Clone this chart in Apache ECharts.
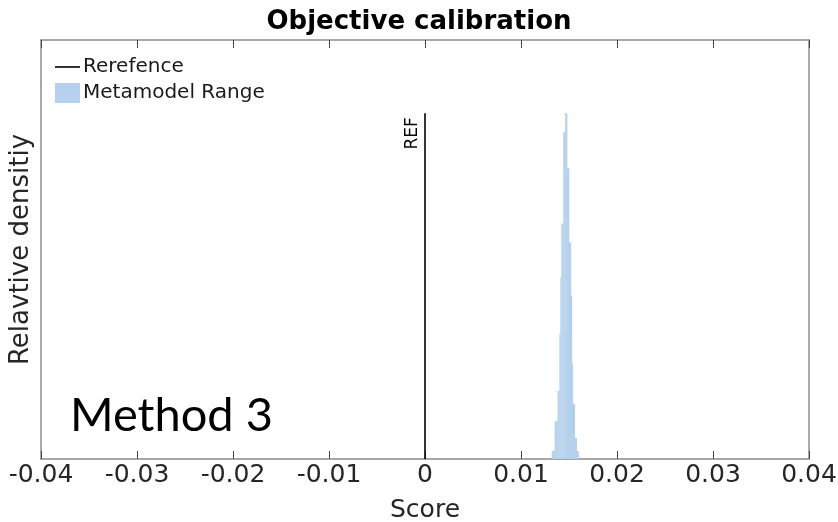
<!DOCTYPE html>
<html>
<head>
<meta charset="utf-8">
<script src="https://cdn.jsdelivr.net/npm/echarts@6/dist/echarts.min.js"></script>
<style>
html,body{margin:0;padding:0;background:#fff;}
#chart{width:838px;height:522px;}
</style>
</head>
<body>
<div id="chart"></div>
<script>
// ---- data ----
const titleText = 'Objective calibration';
const xTicks = [-0.04, -0.03, -0.02, -0.01, 0, 0.01, 0.02, 0.03, 0.04];
// histogram bin edges (Score) and heights (relative density, arbitrary units)
const binEdges = [0.0132, 0.0133, 0.0134, 0.0135, 0.0136, 0.0137, 0.0138, 0.0139, 0.0140, 0.0141,
                  0.0142, 0.0143, 0.0144, 0.0145, 0.0146, 0.0147, 0.0148, 0.0149, 0.0150, 0.0151,
                  0.0152, 0.0153, 0.0154, 0.0155, 0.0156, 0.0157, 0.0158, 0.0159, 0.0160];
const binHeights = [8, 8, 8, 38, 38, 38, 68, 68, 125, 181, 235, 235, 326, 326,
                    345, 345, 290, 290, 216, 216, 163, 95, 55, 55, 21, 21, 8, 8];
const refScore = 0;
const refTop = 345;
const yMax = 418;

const histData = binHeights.map((h, i) => [binEdges[i], binEdges[i + 1], h]);
const refData = [[refScore, 0], [refScore, refTop]];

const FONT = '"DejaVu Sans"';
const chart = echarts.init(document.getElementById('chart'), null, {renderer: 'canvas'});
const frameColor = '#8c8c8c';

chart.setOption({
  animation: false,
  backgroundColor: '#ffffff',
  title: {
    text: titleText, left: 'center', top: 4,
    textStyle: {fontFamily: FONT, fontSize: 26, fontWeight: 'bold', color: '#000'}
  },
  legend: {
    orient: 'vertical', left: 55, top: 57, padding: 0,
    itemWidth: 25, itemHeight: 20, itemGap: 6,
    textStyle: {fontFamily: FONT, fontSize: 20, color: '#1a1a1a', padding: [0, 0, 0, -2]},
    data: [
      {name: 'Rerefence', icon: 'path://M0,0H25V1.6H0Z'},
      {name: 'Metamodel Range', icon: 'rect'}
    ]
  },
  grid: {left: 41, right: 29, top: 40, bottom: 63, outerBoundsMode: 'none', containLabel: false},
  xAxis: [{
    type: 'value', min: -0.04, max: 0.04, interval: 0.01,
    name: 'Score', nameLocation: 'middle', nameGap: 39,
    nameTextStyle: {fontFamily: FONT, fontSize: 25, color: '#262626'},
    axisLine: {show: true, onZero: false, lineStyle: {color: frameColor, width: 1.5}},
    axisTick: {show: true, inside: true, length: 8, lineStyle: {color: '#444'}},
    axisLabel: {fontFamily: FONT, fontSize: 25, color: '#262626', margin: 4,
      formatter: v => { const s = xTicks.find(t => Math.abs(t - v) < 1e-9); return s === 0 ? '0' : String(s); }},
    splitLine: {show: false}
  }, {
    type: 'value', position: 'top', min: -0.04, max: 0.04, interval: 0.01,
    axisLine: {show: true, onZero: false, lineStyle: {color: frameColor, width: 1.5}},
    axisTick: {show: true, inside: true, length: 8, lineStyle: {color: '#444'}},
    axisLabel: {show: false}, splitLine: {show: false}
  }],
  yAxis: [{
    type: 'value', min: 0, max: yMax,
    name: 'Relavtive densitiy', nameLocation: 'middle', nameGap: 7,
    nameTextStyle: {fontFamily: FONT, fontSize: 26, color: '#262626'},
    axisLine: {show: true, onZero: false, lineStyle: {color: frameColor, width: 1.5}},
    axisTick: {show: false}, axisLabel: {show: false}, splitLine: {show: false}
  }, {
    type: 'value', position: 'right', min: 0, max: yMax,
    axisLine: {show: true, onZero: false, lineStyle: {color: frameColor, width: 1.5}},
    axisTick: {show: false}, axisLabel: {show: false}, splitLine: {show: false}
  }],
  graphic: [{
    type: 'text', left: 70, top: 392,
    style: {text: 'Method 3', fontFamily: 'Lato', fontSize: 47, fill: '#000'}
  }],
  series: [{
    name: 'Rerefence', type: 'line', data: refData,
    symbol: 'none', showSymbol: false, color: '#000', lineStyle: {color: '#000', width: 1.6},
    z: 5,
    markLine: {
      silent: true, symbol: 'none',
      lineStyle: {color: 'rgba(0,0,0,0)', width: 0},
      label: {show: true, position: 'insideEndTop', formatter: 'REF', distance: 4,
              fontFamily: FONT, fontSize: 17, color: '#000'},
      data: [[{coord: refData[0]}, {coord: refData[1]}]]
    }
  }, {
    name: 'Metamodel Range', type: 'custom', color: '#b4d0ec',
    data: histData,
    encode: {x: [0, 1], y: 2},
    renderItem: function (params, api) {
      const p0 = api.coord([api.value(0), api.value(2)]);
      const p1 = api.coord([api.value(1), 0]);
      return {
        type: 'rect',
        shape: {x: p0[0], y: p0[1], width: p1[0] - p0[0] + 0.3, height: p1[1] - p0[1]},
        style: {fill: '#b4d0ec'}
      };
    }
  }]
});
</script>
</body>
</html>
